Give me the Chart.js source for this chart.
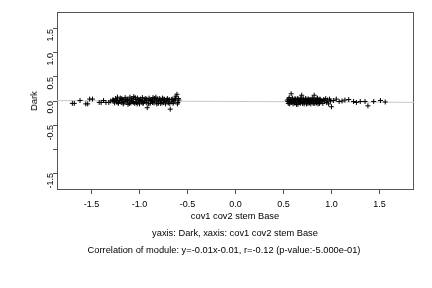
<!DOCTYPE html>
<html>
<head>
<meta charset="utf-8">
<script src="https://cdn.jsdelivr.net/npm/chart.js@4"></script>
<style>
  body { margin: 0; background: #fff; }
  #wrap { position: relative; width: 432px; height: 288px; font-family: "Liberation Sans", Arial, sans-serif; color: #000; }
  #wrap canvas { position: absolute; left: 0; top: 0; }
  .lbl { position: absolute; font-size: 9.3px; white-space: nowrap; transform: translate(-50%, -50%); }
  #ytitle { transform: translate(-50%, -50%) rotate(-90deg); }
</style>
</head>
<body>
<div id="wrap">
  <canvas id="myChart" width="432" height="288"></canvas>
  <div class="lbl" id="ytitle" style="left:34px; top:101px;">Dark</div>
  <div class="lbl" style="left:235px; top:216px;">cov1 cov2 stem Base</div>
  <div class="lbl" style="left:235px; top:233px;">yaxis: Dark, xaxis: cov1 cov2 stem Base</div>
  <div class="lbl" style="left:224px; top:250px;">Correlation of module: y=-0.01x-0.01, r=-0.12 (p-value:-5.000e-01)</div>
</div>
<script>
const ctx = document.getElementById("myChart");

// tick labels
const xTicks = [-1.5, -1.0, -0.5, 0.0, 0.5, 1.0, 1.5];
const yTicks = [-1.5, -1.0, -0.5, 0.0, 0.5, 1.0, 1.5];

// fitted line y = -0.01x - 0.01
const fitX = [-1.86, 1.86];
const fitY = [0.0086, -0.0286];

// left group (x, y)
const leftPts = [
  [-1.70, -0.05], [-1.68, -0.05], [-1.62, 0.01], [-1.56, -0.06], [-1.54, -0.06],
  [-1.52, 0.04], [-1.49, 0.04], [-1.42, -0.03], [-1.40, -0.03], [-1.375, 0.01],
  [-1.35, -0.03], [-1.32, -0.03], [-1.30, 0.00], [-1.28, 0.02],
  [-1.27, 0.02], [-1.26, -0.04], [-1.25, 0.05], [-1.24, -0.02], [-1.23, 0.08],
  [-1.22, -0.05], [-1.21, 0.01], [-1.20, 0.06], [-1.19, -0.03], [-1.18, 0.03],
  [-1.17, -0.06], [-1.16, 0.00], [-1.15, 0.07], [-1.14, -0.02], [-1.13, 0.04],
  [-1.12, -0.07], [-1.11, 0.02], [-1.10, 0.08], [-1.09, -0.04], [-1.08, 0.05],
  [-1.07, -0.01], [-1.06, 0.09], [-1.05, -0.05], [-1.04, 0.03], [-1.03, -0.03],
  [-1.02, 0.06], [-1.01, 0.00], [-1.00, -0.06], [-0.99, 0.04], [-0.98, -0.02],
  [-0.97, 0.07], [-0.96, -0.04], [-0.95, 0.02], [-0.94, 0.05], [-0.93, -0.03],
  [-0.92, -0.14], [-0.91, 0.01], [-0.90, 0.06], [-0.89, -0.05], [-0.88, 0.03],
  [-0.87, -0.01], [-0.86, 0.07], [-0.85, -0.04], [-0.84, 0.02], [-0.83, 0.08],
  [-0.82, -0.06], [-0.81, 0.04], [-0.80, -0.02], [-0.79, 0.05], [-0.78, -0.05],
  [-0.77, 0.01], [-0.76, 0.06], [-0.75, -0.03], [-0.74, 0.03], [-0.73, -0.06],
  [-0.72, 0.02], [-0.71, 0.05], [-0.70, -0.04], [-0.69, 0.03], [-0.68, -0.17],
  [-0.67, -0.02], [-0.66, 0.04], [-0.65, -0.05], [-0.64, 0.01], [-0.63, 0.06],
  [-0.62, 0.10], [-0.61, 0.14], [-0.60, -0.03], [-0.59, 0.02],
  [-1.265, -0.01], [-1.245, 0.03], [-1.225, -0.03], [-1.205, 0.00], [-1.185, 0.05],
  [-1.165, -0.04], [-1.145, 0.03], [-1.125, 0.01], [-1.105, -0.05], [-1.085, 0.02],
  [-1.065, -0.03], [-1.045, 0.07], [-1.025, -0.06], [-1.005, 0.03], [-0.985, 0.01],
  [-0.965, -0.05], [-0.945, 0.00], [-0.925, 0.04], [-0.905, -0.06], [-0.885, 0.01],
  [-0.865, -0.03], [-0.845, 0.05], [-0.825, 0.00], [-0.805, -0.05], [-0.785, 0.02],
  [-0.765, -0.04], [-0.745, 0.04], [-0.725, -0.01], [-0.705, 0.02], [-0.685, -0.05],
  [-0.665, 0.03], [-0.645, -0.02], [-0.625, 0.04], [-0.605, -0.06], [-0.595, 0.05],
];

// right group (x, y)
const rightPts = [
  [0.54, 0.02], [0.55, -0.05], [0.56, 0.07], [0.57, -0.02], [0.58, 0.15],
  [0.59, 0.03], [0.60, -0.06], [0.61, 0.01], [0.62, 0.05], [0.63, -0.04],
  [0.64, 0.02], [0.65, -0.07], [0.66, 0.04], [0.67, -0.01], [0.68, 0.06],
  [0.69, 0.12], [0.70, -0.05], [0.71, 0.03], [0.72, -0.02], [0.73, 0.05],
  [0.74, -0.06], [0.75, 0.01], [0.76, 0.04], [0.77, -0.04], [0.78, 0.02],
  [0.79, -0.01], [0.80, 0.06], [0.81, -0.05], [0.82, 0.12], [0.83, 0.03],
  [0.84, -0.03], [0.85, 0.05], [0.86, -0.06], [0.87, 0.02], [0.88, 0.04],
  [0.89, -0.02], [0.90, 0.01], [0.91, -0.05], [0.92, 0.03], [0.93, 0.00],
  [0.94, 0.05], [0.95, -0.03], [0.96, 0.02], [0.97, -0.06], [0.98, 0.04],
  [0.99, 0.00],
  [0.545, -0.01], [0.555, 0.04], [0.565, -0.06], [0.575, 0.01], [0.585, -0.03],
  [0.595, 0.06], [0.605, 0.00], [0.615, -0.04], [0.625, 0.03], [0.635, -0.07],
  [0.645, 0.05], [0.655, -0.02], [0.665, 0.01], [0.675, -0.05], [0.685, 0.03],
  [0.695, -0.03], [0.705, 0.05], [0.715, -0.06], [0.725, 0.02], [0.735, -0.01],
  [0.745, 0.04], [0.755, -0.05], [0.765, 0.00], [0.775, 0.03], [0.785, -0.06],
  [0.795, 0.02], [0.805, -0.02], [0.815, 0.04], [0.825, -0.05], [0.835, 0.01],
  [0.845, -0.04], [0.855, 0.06], [0.865, -0.01], [0.875, -0.05], [0.885, 0.02],
  [1.00, -0.12], [1.02, 0.01], [1.05, 0.04], [1.08, -0.01], [1.11, 0.00],
  [1.14, 0.02], [1.18, 0.03], [1.23, -0.01], [1.26, -0.03], [1.30, -0.01],
  [1.35, -0.01], [1.38, -0.10], [1.44, -0.01], [1.51, 0.01], [1.56, -0.02],
];

const pts = leftPts.concat(rightPts).map(p => ({ x: p[0], y: p[1] }));
const fitLine = fitX.map((x, i) => ({ x: x, y: fitY[i] }));

// frame around the plot area
const framePlugin = {
  id: "frame",
  beforeDatasetsDraw(chart) {
    const a = chart.chartArea;
    const c = chart.ctx;
    c.save();
    c.strokeStyle = "#555";
    c.lineWidth = 1;
    c.strokeRect(a.left + 0.5, a.top + 0.5, a.right - a.left - 1, a.bottom - a.top - 1);
    c.restore();
  },
};

const tickFont = { family: "'Liberation Sans', Arial, sans-serif", size: 9 };

new Chart(ctx, {
  type: "scatter",
  data: {
    datasets: [
      {
        type: "line",
        data: fitLine,
        borderColor: "#c8c8c8",
        borderWidth: 1,
        pointRadius: 0,
        order: 2,
      },
      {
        data: pts,
        pointStyle: "cross",
        pointRadius: 2.5,
        borderColor: "#000",
        backgroundColor: "#000",
        borderWidth: 1,
        order: 1,
      },
    ],
  },
  plugins: [framePlugin],
  options: {
    responsive: false,
    animation: false,
    events: [],
    layout: { padding: { top: 12, right: 18, left: 0, bottom: 0 } },
    plugins: {
      legend: { display: false },
      tooltip: { enabled: false },
    },
    scales: {
      x: {
        type: "linear",
        min: -1.86,
        max: 1.86,
        afterBuildTicks: (s) => { s.ticks = xTicks.map(v => ({ value: v })); },
        afterFit: (s) => { s.height = 98; },
        ticks: {
          color: "#000",
          font: tickFont,
          padding: 5,
          maxRotation: 0,
          callback: (v) => v.toFixed(1),
        },
        grid: { drawOnChartArea: false, drawTicks: true, tickLength: 4, color: "#555" },
        border: { display: false },
      },
      y: {
        min: -1.854,
        max: 1.854,
        afterBuildTicks: (s) => { s.ticks = yTicks.map(v => ({ value: v })); },
        afterFit: (s) => { s.width = 57; },
        ticks: {
          color: "#000",
          font: tickFont,
          padding: 2,
          minRotation: 90,
          maxRotation: 90,
          callback: (v) => (v === -1 ? "" : v.toFixed(1)),
        },
        grid: { drawOnChartArea: false, drawTicks: true, tickLength: 4, color: "#555" },
        border: { display: false },
      },
    },
  },
});
</script>
</body>
</html>
